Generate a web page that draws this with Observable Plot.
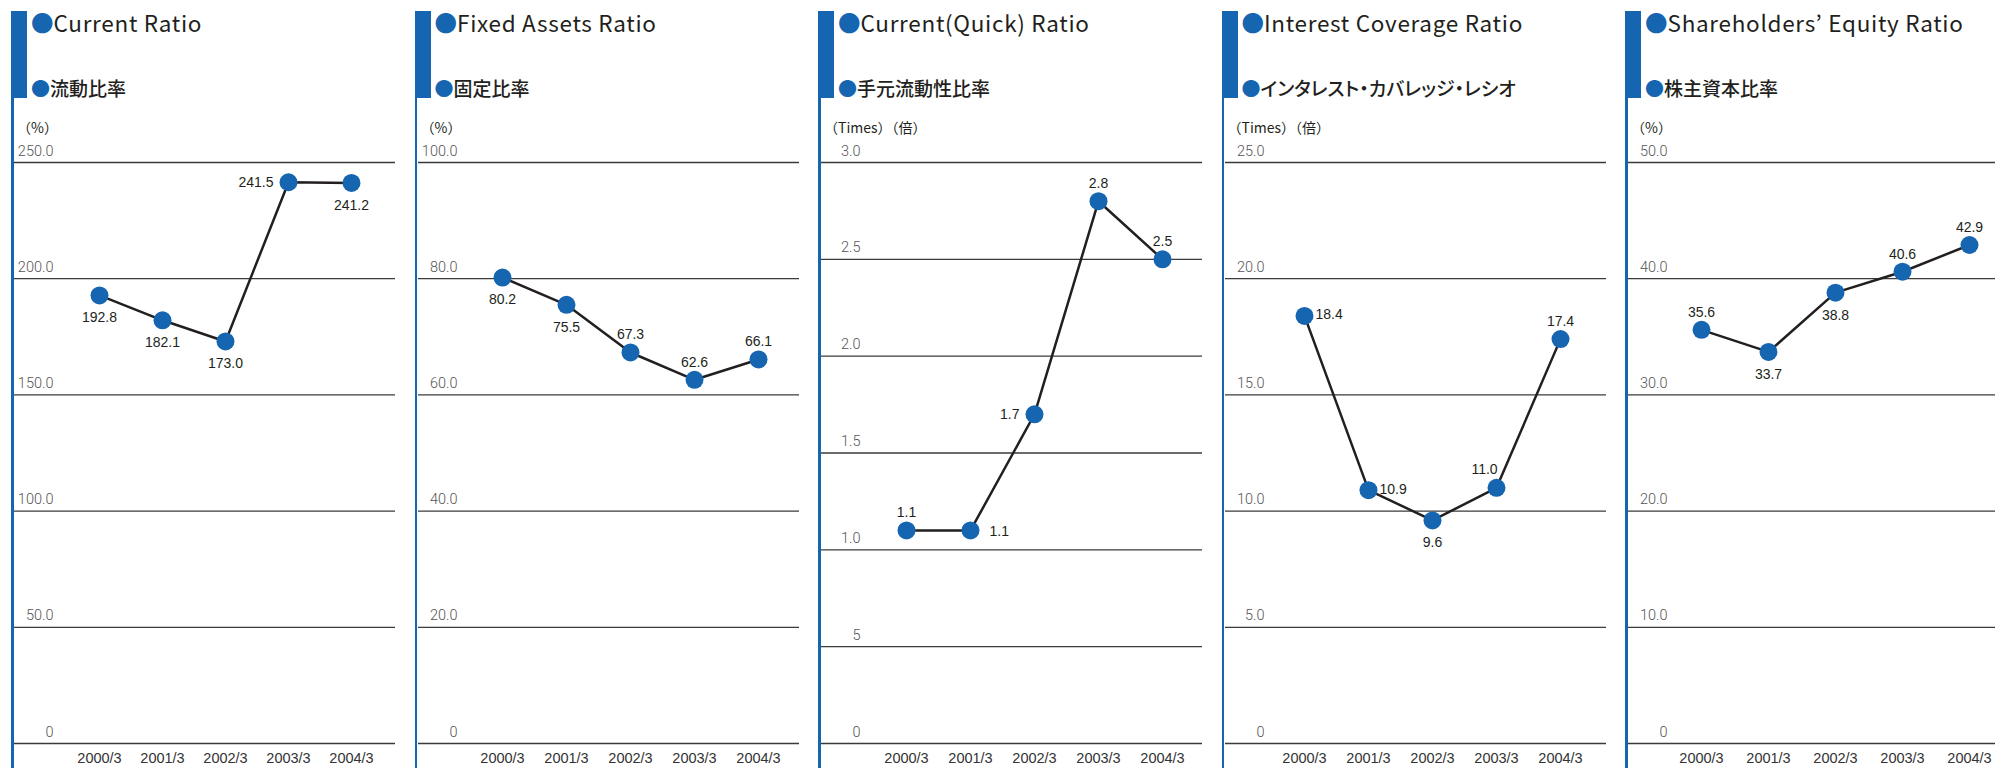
<!DOCTYPE html>
<html><head><meta charset="utf-8">
<script src="https://cdn.jsdelivr.net/npm/d3@7"></script>
<script src="https://cdn.jsdelivr.net/npm/@observablehq/plot@0.6"></script>
<style>
html,body{margin:0;padding:0;background:#fff;width:1995px;height:768px;overflow:hidden;position:relative;}
.panel{position:absolute;top:11px;height:757px;width:400px;}
.rail{position:absolute;left:0;top:0;width:2.5px;height:757px;background:#1565b0;}
.bar{position:absolute;left:0;top:0;width:16px;height:87px;background:#1565b0;}
.title{position:absolute;left:20px;top:0px;font-size:22.5px;line-height:22px;letter-spacing:0.7px;font-family:"Noto Sans CJK JP",sans-serif;color:#231f20;white-space:nowrap;}
.title .dotc{letter-spacing:0;}
.sub{position:absolute;left:20px;top:67px;font-size:19px;line-height:19px;font-family:"Noto Sans CJK JP",sans-serif;color:#231f20;white-space:nowrap;font-weight:500;font-feature-settings:"palt";}
.dotc{color:#1565b0;}
.unit{position:absolute;left:6px;top:109px;font-size:14px;line-height:14px;font-family:"Noto Sans CJK JP",sans-serif;color:#231f20;white-space:nowrap;}
.chart{position:absolute;left:3px;top:89px;}
</style></head>
<body>
<script>
// ---- data ----
const years = ["2000/3", "2001/3", "2002/3", "2003/3", "2004/3"];

const currentRatio = [192.8, 182.1, 173.0, 241.5, 241.2];
const fixedAssetsRatio = [80.2, 75.5, 67.3, 62.6, 66.1];
const quickRatio = [1.1, 1.1, 1.7, 2.8, 2.5];
const interestCoverage = [18.4, 10.9, 9.6, 11.0, 17.4];
const equityRatio = [35.6, 33.7, 38.8, 40.6, 42.9];

const currentTicks = [0, 50, 100, 150, 200, 250];
const currentTickLabels = ["0", "50.0", "100.0", "150.0", "200.0", "250.0"];
const fixedTicks = [0, 20, 40, 60, 80, 100];
const fixedTickLabels = ["0", "20.0", "40.0", "60.0", "80.0", "100.0"];
const quickTicks = [0, 0.5, 1, 1.5, 2, 2.5, 3];
const quickTickLabels = ["0", "5", "1.0", "1.5", "2.0", "2.5", "3.0"];
const interestTicks = [0, 5, 10, 15, 20, 25];
const interestTickLabels = ["0", "5.0", "10.0", "15.0", "20.0", "25.0"];
const equityTicks = [0, 10, 20, 30, 40, 50];
const equityTickLabels = ["0", "10.0", "20.0", "30.0", "40.0", "50.0"];

const titlesEn = ["Current Ratio", "Fixed Assets Ratio", "Current(Quick) Ratio", "Interest Coverage Ratio", "Shareholders\u2019 Equity Ratio"];
const titlesJa = ["流動比率", "固定比率", "手元流動性比率", "インタレスト・カバレッジ・レシオ", "株主資本比率"];
const units = ["（%）", "（%）", "（Times）（倍）", "（Times）（倍）", "（%）"];

// ---- layout / style config (not data) ----
const labelPlacement = [
  ["b", "b", "b", "l", "b"],
  ["b", "b", "t", "t", "t"],
  ["t", "R", "l", "t", "t"],
  ["r", "r", "b", "tl", "t"],
  ["t", "b", "b", "t", "t"]
];
const xRanges = [[83, 338], [82, 341], [84, 342], [78, 335], [73, 341]];
const placeStyle = {
  b:  {dx: 0,   dy: 17,  textAnchor: "middle", lineAnchor: "top"},
  t:  {dx: 0,   dy: -13, textAnchor: "middle", lineAnchor: "bottom"},
  tl: {dx: -12, dy: -14, textAnchor: "middle", lineAnchor: "bottom"},
  l:  {dx: -15, dy: 0,   textAnchor: "end",    lineAnchor: "middle"},
  r:  {dx: 11,  dy: -1,  textAnchor: "start",  lineAnchor: "middle"},
  R:  {dx: 19,  dy: 1,   textAnchor: "start",  lineAnchor: "middle"}
};

const series = [currentRatio, fixedAssetsRatio, quickRatio, interestCoverage, equityRatio];
const tickSets = [currentTicks, fixedTicks, quickTicks, interestTicks, equityTicks];
const tickLabelSets = [currentTickLabels, fixedTickLabels, quickTickLabels, interestTickLabels, equityTickLabels];

const BLUE = "#1565b0";
const INK = "#231f20";

series.forEach((vals, i) => {
  const panel = document.createElement("div");
  panel.className = "panel";
  panel.style.left = (11 + i * 403.5) + "px";
  panel.innerHTML = `<div class="rail"></div><div class="bar"></div>
    <div class="title"><span class="dotc">●</span>${titlesEn[i]}</div>
    <div class="sub"><span class="dotc">●</span>${titlesJa[i]}</div>
    <div class="unit">${units[i]}</div>`;
  document.body.appendChild(panel);

  const rows = years.map((y, j) => ({year: y, value: vals[j], pos: labelPlacement[i][j]}));
  const ticks = tickSets[i];
  const tickMap = new Map(ticks.map((t, k) => [t, tickLabelSets[i][k]]));

  const labelMarks = Object.keys(placeStyle).map(p => {
    const sub = rows.filter(r => r.pos === p);
    if (!sub.length) return null;
    return Plot.text(sub, {
      x: "year", y: "value", text: d => d.value.toFixed(1),
      fill: INK, fontSize: 14, ...placeStyle[p]
    });
  }).filter(Boolean);

  const chart = Plot.plot({
    width: 381,
    height: 668,
    marginLeft: 0,
    marginRight: 0,
    marginTop: 62,
    marginBottom: 25,
    style: {fontFamily: '"Liberation Sans", Arial, sans-serif', fontSize: "14px", color: INK, background: "transparent", overflow: "visible"},
    x: {type: "point", domain: years, range: xRanges[i], padding: 0, label: null},
    y: {domain: [0, ticks[ticks.length - 1]], label: null},
    marks: [
      Plot.ruleY(ticks, {stroke: "#3a3a3a", strokeWidth: 1.3}),
      Plot.axisY({ticks: ticks, tickFormat: d => tickMap.get(d), tickSize: 0, tickPadding: 0, label: null,
        textAnchor: "end", dx: 39, dy: -7, lineAnchor: "bottom", fill: "#555", fontSize: 14.5,
        fontFamily: "Roboto", fontWeight: 300}),
      Plot.axisX({tickSize: 0, tickPadding: 9, label: null, fill: "#333", fontSize: 14.5}),
      Plot.line(rows, {x: "year", y: "value", stroke: INK, strokeWidth: 2.5}),
      Plot.dot(rows, {x: "year", y: "value", r: 9, fill: BLUE, stroke: "none"}),
      ...labelMarks
    ]
  });
  chart.classList.add("chart");
  panel.appendChild(chart);
});
</script>
</body></html>
